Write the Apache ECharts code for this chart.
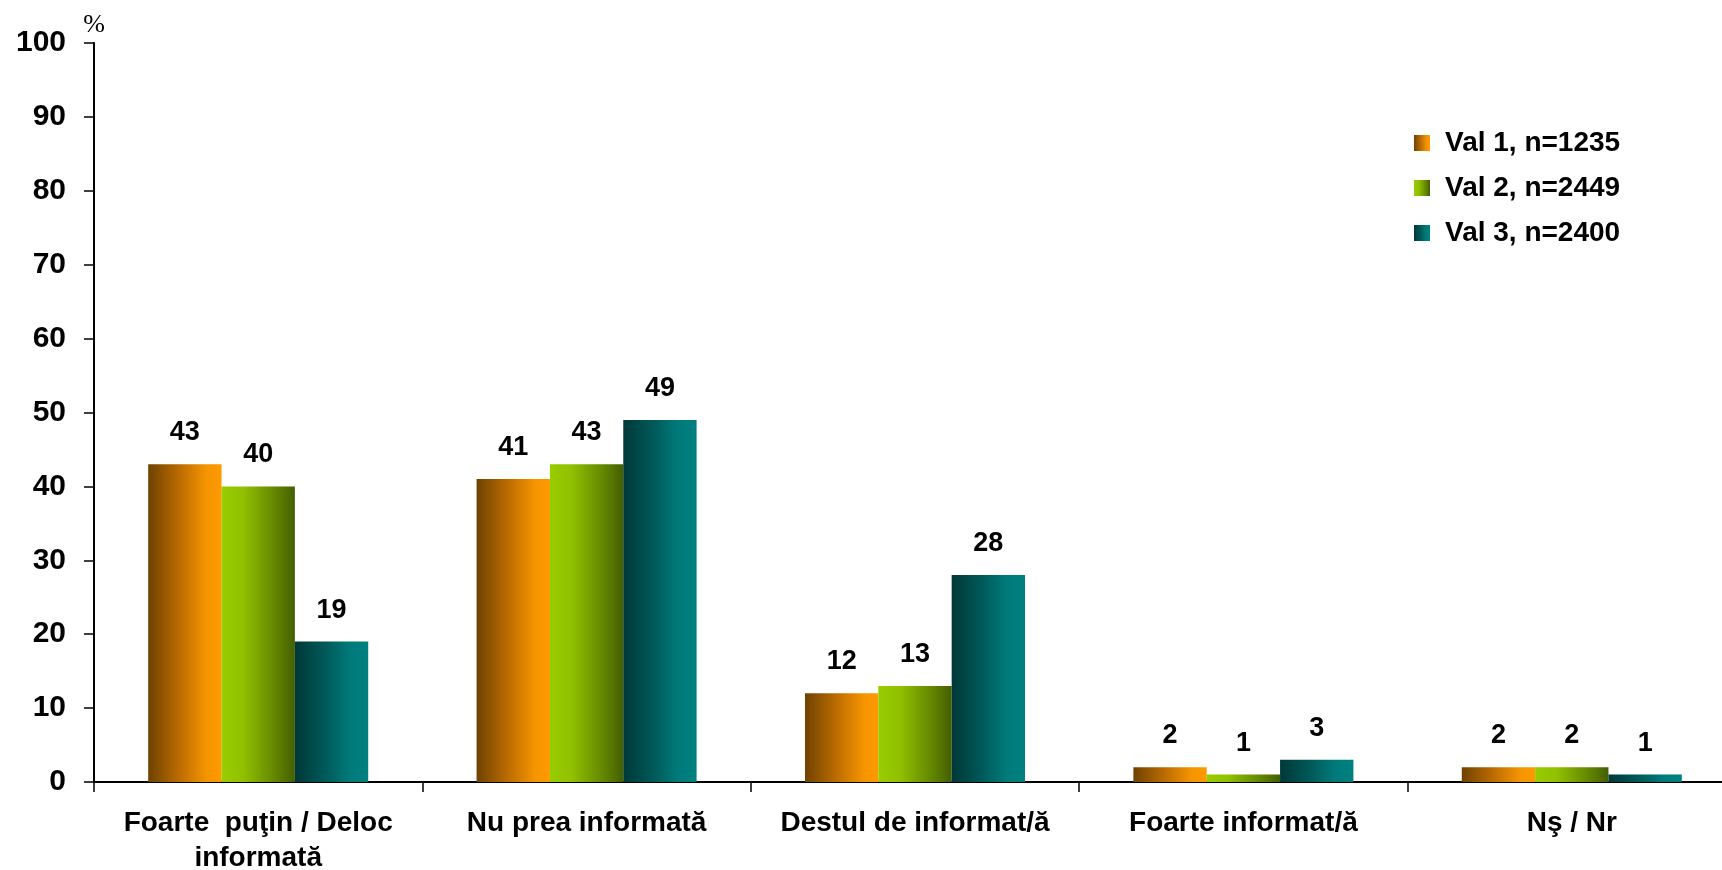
<!DOCTYPE html>
<html>
<head>
<meta charset="utf-8">
<script src="https://cdn.jsdelivr.net/npm/echarts@6/dist/echarts.min.js"></script>
<style>
  html, body { margin: 0; padding: 0; background: #fff; }
  #main { width: 1722px; height: 870px; }
</style>
</head>
<body>
<div id="main"></div>
<script>
// date grafic
var categories = ['Foarte  puţin / Deloc\ninformată', 'Nu prea informată', 'Destul de informat/ă', 'Foarte informat/ă', 'Nş / Nr'];
var seriesNames = ['Val 1, n=1235', 'Val 2, n=2449', 'Val 3, n=2400'];
var val1 = [43, 41, 12, 2, 2];
var val2 = [40, 43, 13, 1, 2];
var val3 = [19, 49, 28, 3, 1];
var yTicks = [0, 10, 20, 30, 40, 50, 60, 70, 80, 90, 100];

var FONT = '"Liberation Sans", Arial, sans-serif';

function grad(stops) {
  return new echarts.graphic.LinearGradient(0, 0, 1, 0, stops.map(function (s) {
    return { offset: s[0], color: s[1] };
  }));
}
var colors = [
  grad([[0, '#6e4200'], [0.45, '#c06e00'], [0.8, '#f59500'], [1, '#ff9900']]),
  grad([[0, '#99cc00'], [0.3, '#90c000'], [0.7, '#668a00'], [1, '#445f00']]),
  grad([[0, '#003838'], [0.4, '#005858'], [0.75, '#007a7a'], [1, '#008080']])
];

function makeSeries(name, data, i) {
  return {
    name: name,
    type: 'bar',
    data: data,
    barGap: '0%',
    barCategoryGap: '33%',
    itemStyle: { color: colors[i] },
    label: {
      show: true,
      position: 'top',
      distance: 18,
      color: '#000',
      fontSize: 27,
      fontWeight: 'bold',
      fontFamily: FONT
    }
  };
}

var myChart = echarts.init(document.getElementById('main'));
var option = {
  animation: false,
  backgroundColor: '#fff',
  // la dreapta graficul iese putin din imagine, ca in original
  grid: { left: 94, width: 1642, top: 43, bottom: 88, containLabel: false, outerBoundsMode: 'none' },
  legend: {
    orient: 'vertical',
    left: 1409,
    top: 124,
    itemWidth: 16,
    itemHeight: 16,
    itemGap: 17,
    icon: 'rect',
    data: seriesNames,
    textStyle: { color: '#000', fontSize: 28, fontWeight: 'bold', fontFamily: FONT, lineHeight: 28, padding: [0, 0, 0, 10] }
  },
  xAxis: {
    type: 'category',
    data: categories,
    axisLine: { lineStyle: { color: '#000', width: 2 } },
    axisTick: { show: true, length: 10, alignWithLabel: false, lineStyle: { color: '#000', width: 1.5 } },
    axisLabel: {
      color: '#000', fontSize: 28, fontWeight: 'bold', fontFamily: FONT,
      margin: 24, lineHeight: 35, interval: 0
    }
  },
  yAxis: {
    type: 'value',
    min: yTicks[0],
    max: yTicks[yTicks.length - 1],
    interval: 10,
    name: '%',
    nameLocation: 'end',
    nameGap: 5,
    nameTextStyle: { color: '#000', fontSize: 26, fontFamily: '"Liberation Serif", "Times New Roman", serif', align: 'center' },
    splitLine: { show: false },
    axisLine: { show: true, lineStyle: { color: '#000', width: 2 } },
    axisTick: { show: true, length: 10, lineStyle: { color: '#000', width: 1.5 } },
    axisLabel: { color: '#000', fontSize: 30, fontWeight: 'bold', fontFamily: FONT, margin: 28 }
  },
  series: [
    makeSeries(seriesNames[0], val1, 0),
    makeSeries(seriesNames[1], val2, 1),
    makeSeries(seriesNames[2], val3, 2)
  ]
};
myChart.setOption(option);
</script>
</body>
</html>
